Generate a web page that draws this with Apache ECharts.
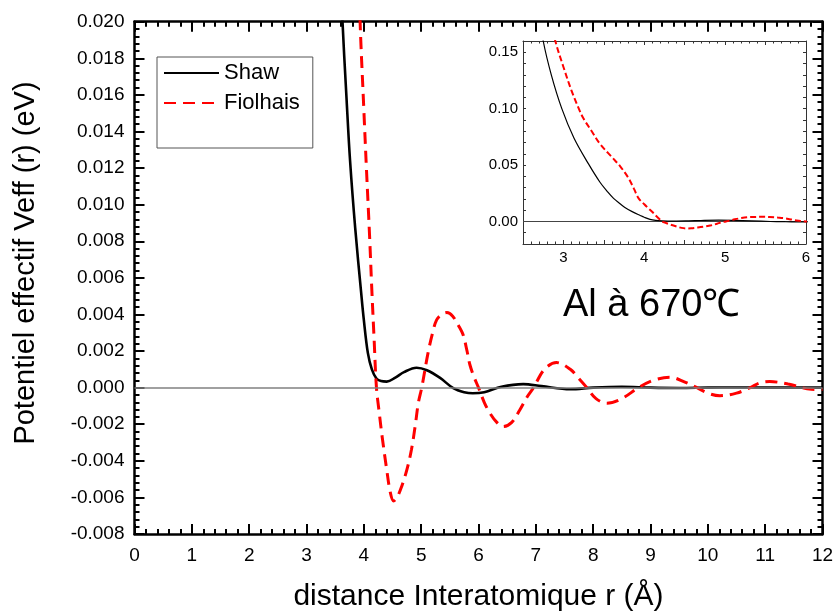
<!DOCTYPE html>
<html>
<head>
<meta charset="utf-8">
<script src="https://cdn.jsdelivr.net/npm/echarts@6/dist/echarts.min.js"></script>
<style>html,body{margin:0;padding:0;background:#fff}#c{width:835px;height:612px}</style>
</head>
<body>
<div id="c"></div>
<script>
// ---- data ----
const rShaw = [2.70, 2.75, 2.85, 2.98, 3.13, 3.31, 3.45, 3.55, 3.62, 3.70, 3.76, 3.85, 3.95, 4.00, 4.07, 4.14, 4.22, 4.30, 4.40, 4.55, 4.70, 4.92, 5.10, 5.33, 5.56, 5.75, 5.90, 6.10, 6.40, 6.78, 7.10, 7.60, 8.00, 8.50, 9.00, 9.50, 10.0, 10.5, 11.0, 11.5, 12.0];
const vShaw = [0.185, 0.160, 0.130, 0.100, 0.074, 0.051, 0.035, 0.026, 0.0205, 0.0157, 0.0124, 0.0087, 0.0053, 0.0037, 0.0019, 0.0010, 0.0005, 0.00036, 0.00033, 0.00055, 0.00085, 0.00109, 0.00095, 0.00053, -0.00003, -0.00025, -0.00031, -0.00025, 0.00005, 0.00019, 0.00008, -0.00009, 0.0, 0.00005, 0.0, -0.00002, 0.0, 0.00001, 0.0, 0.0, 0.0];

const rFiol = [2.85, 2.90, 3.00, 3.10, 3.19, 3.25, 3.35, 3.45, 3.60, 3.70, 3.80, 3.87, 3.93, 4.00, 4.045, 4.10, 4.14, 4.18, 4.22, 4.27, 4.32, 4.40, 4.46, 4.52, 4.58, 4.66, 4.75, 4.83, 4.90, 4.95, 5.01, 5.12, 5.20, 5.27, 5.36, 5.45, 5.55, 5.65, 5.73, 5.80, 5.85, 5.92, 6.00, 6.10, 6.20, 6.32, 6.43, 6.58, 6.72, 6.85, 6.96, 7.15, 7.36, 7.60, 7.75, 7.89, 8.05, 8.24, 8.50, 8.79, 9.05, 9.34, 9.60, 9.81, 10.0, 10.21, 10.5, 10.74, 10.9, 11.08, 11.4, 11.8, 12.0];
const vFiol = [0.178, 0.160, 0.137, 0.116, 0.100, 0.091, 0.080, 0.069, 0.057, 0.049, 0.0390, 0.0293, 0.0205, 0.0152, 0.0120, 0.0083, 0.0053, 0.0026, 0.0, -0.0014, -0.0027, -0.0045, -0.0057, -0.0062, -0.0060, -0.0054, -0.0045, -0.0034, -0.0020, -0.00085, 0.0, 0.0019, 0.0030, 0.0037, 0.0040, 0.0041, 0.0039, 0.0034, 0.0029, 0.0020, 0.00125, 0.0006, 0.0, -0.0008, -0.0014, -0.0019, -0.00213, -0.0019, -0.00122, -0.0005, 0.0, 0.0010, 0.00137, 0.0010, 0.0005, 0.0, -0.0006, -0.00085, -0.0006, 0.0, 0.0004, 0.00057, 0.0003, 0.0, -0.0003, -0.00044, -0.0003, 0.0, 0.00025, 0.00033, 0.0002, -0.00009, -0.0001];

const seriesNames = ['Shaw', 'Fiolhais'];
const xTitle = 'distance Interatomique r (Å)';
const yTitle = 'Potentiel effectif Veff (r) (eV)';
const annotation = 'Al à 670℃';
const mainX = {min: 0, max: 12, interval: 1};
const mainY = {min: -0.008, max: 0.020, interval: 0.002};
const insetX = {min: 2.5, max: 6, interval: 0.5};
const insetY = {min: -0.02, max: 0.16, interval: 0.01, labelStep: 0.05};

const pairs = (xs, ys) => xs.map((x, i) => [x, ys[i]]);
const FONT = 'Liberation Sans, Arial, sans-serif';

function mainXAxis(pos, showLabel) {
  return {
    type: 'value', gridIndex: 0, position: pos, min: mainX.min, max: mainX.max, interval: mainX.interval,
    name: showLabel ? xTitle : '', nameLocation: 'middle', nameGap: 48,
    nameTextStyle: {fontFamily: FONT, fontSize: 30, color: '#000'},
    axisLine: {show: true, onZero: false, lineStyle: {color: '#000', width: 2.5}},
    axisTick: {show: true, inside: true, length: 10, lineStyle: {color: '#000', width: 2}},
    minorTick: {show: true, splitNumber: 5, length: 5, lineStyle: {color: '#000', width: 2}},
    axisLabel: {show: showLabel, margin: 12, fontFamily: FONT, fontSize: 19, color: '#000'},
    splitLine: {show: false}, minorSplitLine: {show: false}
  };
}
function mainYAxis(pos, showLabel) {
  return {
    type: 'value', gridIndex: 0, position: pos, min: mainY.min, max: mainY.max, interval: mainY.interval,
    axisLine: {show: true, onZero: false, lineStyle: {color: '#000', width: 2.5}},
    axisTick: {show: true, inside: true, length: 10, lineStyle: {color: '#000', width: 2}},
    minorTick: {show: true, splitNumber: 5, length: 5, lineStyle: {color: '#000', width: 2}},
    axisLabel: {show: showLabel, margin: 10, fontFamily: FONT, fontSize: 19, color: '#000',
      formatter: v => Math.abs(v) < 1e-9 ? '0.000' : v.toFixed(3)},
    splitLine: {show: false}, minorSplitLine: {show: false}
  };
}
function insetXAxis(pos, showLabel) {
  return {
    type: 'value', gridIndex: 1, position: pos, min: insetX.min, max: insetX.max, interval: insetX.interval,
    axisLine: {show: true, onZero: false, lineStyle: {color: '#333', width: 1}},
    axisTick: {show: true, inside: true, length: 4, lineStyle: {color: '#333', width: 1}},
    minorTick: {show: true, splitNumber: 5, length: 2.5, lineStyle: {color: '#333', width: 1}},
    axisLabel: {show: showLabel, margin: 6, fontFamily: FONT, fontSize: 15, color: '#000',
      formatter: v => Math.abs(v - Math.round(v)) < 1e-6 ? String(Math.round(v)) : ''},
    splitLine: {show: false}, minorSplitLine: {show: false}
  };
}
function insetYAxis(pos, showLabel) {
  return {
    type: 'value', gridIndex: 1, position: pos, min: insetY.min, max: insetY.max, interval: insetY.interval,
    axisLine: {show: true, onZero: false, lineStyle: {color: '#333', width: 1}},
    axisTick: {show: true, inside: true, length: 3, lineStyle: {color: '#333', width: 1}},
    minorTick: {show: false},
    axisLabel: {show: showLabel, margin: 5, fontFamily: FONT, fontSize: 15, color: '#000',
      formatter: v => { const k = v / insetY.labelStep; return Math.abs(k - Math.round(k)) < 1e-6 ? (Math.abs(v) < 1e-9 ? '0.00' : v.toFixed(2)) : ''; }},
    splitLine: {show: false}, minorSplitLine: {show: false}
  };
}

const chart = echarts.init(document.getElementById('c'), null, {renderer: 'canvas'});
chart.setOption({
  animation: false,
  backgroundColor: '#fff',
  textStyle: {fontFamily: FONT},
  grid: [
    {left: 134.5, top: 21.7, width: 688, height: 512.3, containLabel: false, outerBoundsMode: 'none'},
    {left: 523, top: 41, width: 283, height: 203, show: true, backgroundColor: '#fff', borderWidth: 0, containLabel: false, outerBoundsMode: 'none'}
  ],
  legend: {
    data: seriesNames, left: 157, top: 57, orient: 'vertical',
    itemWidth: 55, itemHeight: 14, itemGap: 8,
    padding: [5, 13, 34, 6],
    borderColor: '#555', borderWidth: 1, backgroundColor: '#fff',
    itemStyle: {opacity: 0, borderWidth: 0},
    textStyle: {fontFamily: FONT, fontSize: 22, color: '#000'}
  },
  xAxis: [mainXAxis('bottom', true), mainXAxis('top', false), insetXAxis('bottom', true), insetXAxis('top', false)],
  yAxis: [mainYAxis('left', true), mainYAxis('right', false), insetYAxis('left', true), insetYAxis('right', false)],
  series: [
    {
      name: seriesNames[0], type: 'line', xAxisIndex: 0, yAxisIndex: 0, data: pairs(rShaw, vShaw),
      symbol: 'none', smooth: 0.35, clip: true, z: 3,
      lineStyle: {color: '#000', width: 2.6}, itemStyle: {color: '#000'},
      markLine: {silent: true, symbol: 'none', label: {show: false},
        lineStyle: {color: '#808080', width: 1.5, type: 'solid'}, data: [{yAxis: 0}]}
    },
    {
      name: seriesNames[1], type: 'line', xAxisIndex: 0, yAxisIndex: 0, data: pairs(rFiol, vFiol),
      symbol: 'none', smooth: 0.35, clip: true, z: 4,
      lineStyle: {color: '#ff0000', width: 3, type: [12, 7]}, itemStyle: {color: '#ff0000'}
    },
    {
      name: seriesNames[0] + ' (encart)', type: 'line', xAxisIndex: 2, yAxisIndex: 2, data: pairs(rShaw, vShaw),
      symbol: 'none', smooth: 0.35, clip: true, z: 5,
      lineStyle: {color: '#000', width: 1.2},
      markLine: {silent: true, symbol: 'none', label: {show: false},
        lineStyle: {color: '#444', width: 1.2, type: 'solid'}, data: [{yAxis: 0}]}
    },
    {
      name: seriesNames[1] + ' (encart)', type: 'line', xAxisIndex: 2, yAxisIndex: 2, data: pairs(rFiol, vFiol),
      symbol: 'none', smooth: 0.35, clip: true, z: 6,
      lineStyle: {color: '#ff0000', width: 2, type: [6, 3]}
    }
  ],
  graphic: [
    {type: 'text', x: 26, y: 263, rotation: Math.PI / 2, z: 10,
      style: {text: yTitle, font: '29px ' + FONT, fill: '#000', textAlign: 'center', textVerticalAlign: 'middle'}},
    {type: 'text', x: 563, y: 306, z: 10,
      style: {text: annotation, font: '38px ' + FONT, fill: '#000', textAlign: 'left', textVerticalAlign: 'middle'}}
  ]
});
</script>
</body>
</html>
